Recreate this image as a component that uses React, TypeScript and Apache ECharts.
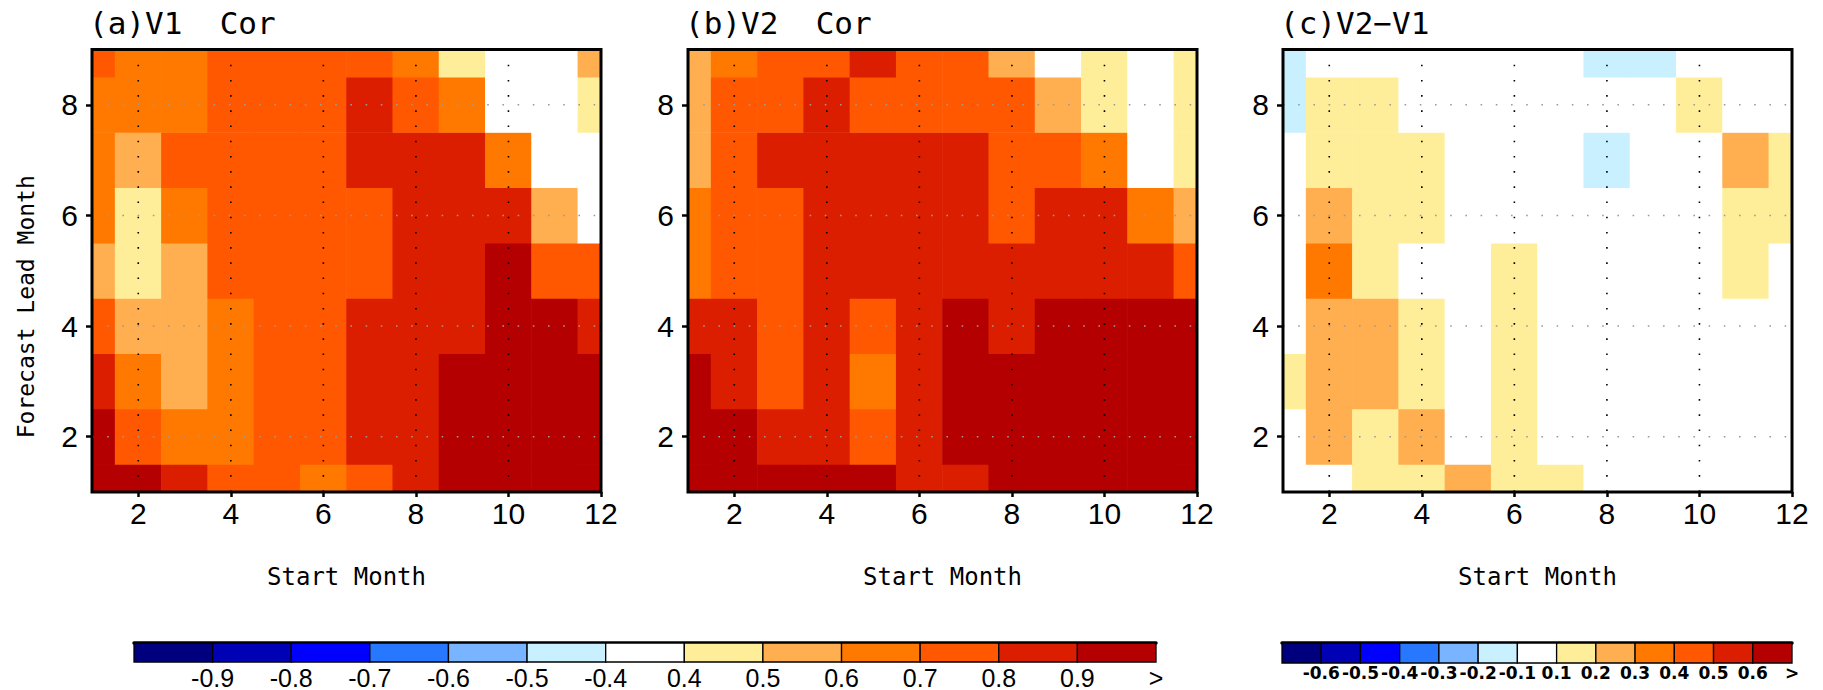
import React, { useEffect, useRef } from 'react';
import * as echarts from 'echarts';

// ---------- data ----------
const startMonths = [1, 2, 3, 4, 5, 6, 7, 8, 9, 10, 11, 12];
const leadMonths = [1, 2, 3, 4, 5, 6, 7, 8, 9];
const xTickValues = [2, 4, 6, 8, 10, 12];
const yTickValues = [2, 4, 6, 8];
const gridXValues = [2, 4, 6, 8, 10];
const gridYValues = [2, 4, 6, 8];

// rows: lead month 1 (bottom) ... 9 (top); columns: start month 1 ... 12
const v1Cor = [
  [0.93, 0.93, 0.85, 0.75, 0.75, 0.65, 0.75, 0.85, 0.93, 0.93, 0.93, 0.93],
  [0.93, 0.75, 0.65, 0.65, 0.75, 0.75, 0.85, 0.85, 0.93, 0.93, 0.93, 0.93],
  [0.85, 0.65, 0.55, 0.65, 0.75, 0.75, 0.85, 0.85, 0.93, 0.93, 0.93, 0.93],
  [0.75, 0.55, 0.55, 0.65, 0.75, 0.75, 0.85, 0.85, 0.85, 0.93, 0.93, 0.85],
  [0.55, 0.45, 0.55, 0.75, 0.75, 0.75, 0.75, 0.85, 0.85, 0.93, 0.75, 0.75],
  [0.65, 0.45, 0.65, 0.75, 0.75, 0.75, 0.75, 0.85, 0.85, 0.85, 0.55, 0.35],
  [0.65, 0.55, 0.75, 0.75, 0.75, 0.75, 0.85, 0.85, 0.85, 0.65, 0.35, 0.35],
  [0.65, 0.65, 0.65, 0.75, 0.75, 0.75, 0.85, 0.75, 0.65, 0.35, 0.35, 0.45],
  [0.75, 0.65, 0.65, 0.75, 0.75, 0.75, 0.75, 0.65, 0.45, 0.35, 0.35, 0.55],
];
const v2Cor = [
  [0.93, 0.93, 0.93, 0.93, 0.93, 0.85, 0.85, 0.93, 0.93, 0.93, 0.93, 0.93],
  [0.93, 0.93, 0.85, 0.85, 0.75, 0.85, 0.93, 0.93, 0.93, 0.93, 0.93, 0.93],
  [0.93, 0.85, 0.75, 0.85, 0.65, 0.85, 0.93, 0.93, 0.93, 0.93, 0.93, 0.93],
  [0.85, 0.85, 0.75, 0.85, 0.75, 0.85, 0.93, 0.85, 0.93, 0.93, 0.93, 0.93],
  [0.65, 0.75, 0.75, 0.85, 0.85, 0.85, 0.85, 0.85, 0.85, 0.85, 0.85, 0.75],
  [0.65, 0.75, 0.75, 0.85, 0.85, 0.85, 0.85, 0.75, 0.85, 0.85, 0.65, 0.55],
  [0.55, 0.75, 0.85, 0.85, 0.85, 0.85, 0.85, 0.75, 0.75, 0.65, 0.35, 0.45],
  [0.55, 0.75, 0.75, 0.85, 0.75, 0.75, 0.75, 0.75, 0.55, 0.45, 0.35, 0.45],
  [0.55, 0.65, 0.75, 0.75, 0.85, 0.75, 0.75, 0.55, 0.35, 0.45, 0.35, 0.45],
];
const v2MinusV1 = [
  [0.05, 0.05, 0.15, 0.15, 0.25, 0.15, 0.15, 0.05, 0.05, 0.05, 0.05, 0.05],
  [0.05, 0.25, 0.15, 0.25, 0.05, 0.15, 0.05, 0.05, 0.05, 0.05, 0.05, 0.05],
  [0.15, 0.25, 0.25, 0.15, 0.05, 0.15, 0.05, 0.05, 0.05, 0.05, 0.05, 0.05],
  [0.05, 0.25, 0.25, 0.15, 0.05, 0.15, 0.05, 0.05, 0.05, 0.05, 0.05, 0.05],
  [0.05, 0.35, 0.15, 0.05, 0.05, 0.15, 0.05, 0.05, 0.05, 0.05, 0.15, 0.05],
  [0.05, 0.25, 0.15, 0.15, 0.05, 0.05, 0.05, 0.05, 0.05, 0.05, 0.15, 0.15],
  [0.05, 0.15, 0.15, 0.15, 0.05, 0.05, 0.05, -0.15, 0.05, 0.05, 0.25, 0.15],
  [-0.15, 0.15, 0.15, 0.05, 0.05, 0.05, 0.05, 0.05, 0.05, 0.15, 0.05, 0.05],
  [-0.15, 0.05, 0.05, 0.05, 0.05, 0.05, 0.05, -0.15, -0.15, 0.05, 0.05, 0.05],
];

const corThresholds = [-0.9, -0.8, -0.7, -0.6, -0.5, -0.4, 0.4, 0.5, 0.6, 0.7, 0.8, 0.9];
const diffThresholds = [-0.6, -0.5, -0.4, -0.3, -0.2, -0.1, 0.1, 0.2, 0.3, 0.4, 0.5, 0.6];
const paletteColors = [
  '#00007F', '#0000B4', '#0000FF', '#2878FF', '#78B4FF', '#C8F0FF', '#FFFFFF',
  '#FFEE99', '#FFAF4F', '#FF7800', '#FF5800', '#DC1E00', '#B40000',
];
const corLabels = ['-0.9', '-0.8', '-0.7', '-0.6', '-0.5', '-0.4', '0.4', '0.5', '0.6', '0.7', '0.8', '0.9', '>'];
const diffLabels = ['-0.6', '-0.5', '-0.4', '-0.3', '-0.2', '-0.1', '0.1', '0.2', '0.3', '0.4', '0.5', '0.6', '>'];
const panelTitles = ['(a)V1  Cor', '(b)V2  Cor', '(c)V2\u2212V1'];
const xAxisTitle = 'Start Month';
const yAxisTitle = 'Forecast Lead Month';

// ---------- helpers ----------
const NAME_FONT = "'DejaVu Sans Mono', monospace";
const TICK_FONT = "'Liberation Sans Narrow', 'Liberation Sans', sans-serif";
const CB_FONT = "'Liberation Sans', sans-serif";
const CB2_FONT = "'DejaVu Sans', sans-serif";

function toCells(rows: number[][]) {
  const out: number[][] = [];
  rows.forEach((row, yi) => {
    row.forEach((v, xi) => {
      out.push([startMonths[xi], leadMonths[yi], v]);
    });
  });
  return out;
}

function makePieces(th: number[]) {
  const pieces: any[] = [{ lt: th[0], color: paletteColors[0] }];
  for (let i = 0; i < th.length - 1; i++) {
    pieces.push({ gte: th[i], lt: th[i + 1], color: paletteColors[i + 1] });
  }
  pieces.push({ gte: th[th.length - 1], color: paletteColors[paletteColors.length - 1] });
  return pieces;
}

const cellRender = (params: any, api: any) => {
  const x = api.value(0);
  const y = api.value(1);
  const p0 = api.coord([x - 0.5, y + 0.5]);
  const p1 = api.coord([x + 0.5, y - 0.5]);
  const cs = params.coordSys;
  const shape = echarts.graphic.clipRectByRect(
    { x: p0[0] - 0.3, y: p0[1] - 0.3, width: p1[0] - p0[0] + 0.6, height: p1[1] - p0[1] + 0.6 },
    { x: cs.x, y: cs.y, width: cs.width, height: cs.height }
  );
  if (!shape) return null;
  return { type: 'rect', shape, style: { fill: api.visual('color') } };
};

const vLineRender = (params: any, api: any) => {
  const v = api.value(0);
  const p0 = api.coord([v, 9]);
  const p1 = api.coord([v, 1]);
  return {
    type: 'line',
    shape: { x1: p0[0], y1: p0[1], x2: p1[0], y2: p1[1] },
    style: { stroke: '#000', lineWidth: 1.6, lineDash: [1.6, 13.6] },
  };
};

const hLineRender = (params: any, api: any) => {
  const v = api.value(1);
  const p0 = api.coord([1, v]);
  const p1 = api.coord([12, v]);
  return {
    type: 'line',
    shape: { x1: p0[0], y1: p0[1], x2: p1[0], y2: p1[1] },
    style: { stroke: '#9a9a9a', lineWidth: 1.6, lineDash: [1.6, 13.6] },
  };
};

const barRender = (params: any, api: any) => {
  const i = api.value(0);
  const p0 = api.coord([i, 1]);
  const p1 = api.coord([i + 1, 0]);
  return {
    type: 'rect',
    shape: { x: p0[0], y: p0[1], width: p1[0] - p0[0], height: p1[1] - p0[1] },
    style: { fill: api.visual('color'), stroke: '#000', lineWidth: 1.3 },
  };
};

const panelLefts = [92, 688, 1283];
const PANEL_TOP = 49.5;
const PANEL_W = 509;
const PANEL_H = 442.5;

export default function App() {
  const ref = useRef<HTMLDivElement>(null);

  useEffect(() => {
    if (!ref.current) return;
    const chart = echarts.init(ref.current, undefined, { renderer: 'svg' });

    const grids: any[] = panelLefts.map((left) => ({
      left,
      top: PANEL_TOP,
      width: PANEL_W,
      height: PANEL_H,
      show: true,
      borderColor: '#000',
      borderWidth: 3,
      backgroundColor: 'transparent',
      z: 10,
    }));
    grids.push({ left: 134, top: 643, width: 1022, height: 20, show: false });
    grids.push({ left: 1282, top: 643, width: 510, height: 20, show: false });

    const xAxes: any[] = panelLefts.map((_, i) => ({
      type: 'value',
      gridIndex: i,
      min: 1,
      max: 12,
      axisLine: { show: false },
      splitLine: { show: false },
      axisTick: {
        show: true,
        length: 5,
        customValues: xTickValues,
        lineStyle: { color: '#000', width: 2.5 },
      },
      axisLabel: {
        customValues: xTickValues,
        color: '#000',
        fontSize: 30,
        fontFamily: TICK_FONT,
        margin: 6,
      },
      name: xAxisTitle,
      nameLocation: 'middle',
      nameGap: 85,
      nameTextStyle: { color: '#000', fontSize: 24, fontFamily: NAME_FONT, verticalAlign: 'middle' },
    }));
    // colorbar axes
    const cbAxis = (
      gridIndex: number,
      labels: string[],
      size: number,
      weight: string,
      margin: number,
      family: string
    ) => [
      {
        type: 'value',
        gridIndex,
        min: 0,
        max: 13,
        axisLine: { show: false },
        axisTick: { show: false },
        splitLine: { show: false },
        axisLabel: {
          customValues: labels.map((_, i) => i + 1),
          formatter: (v: number) => labels[Math.round(v) - 1] ?? '',
          color: '#000',
          fontSize: size,
          fontWeight: weight,
          fontFamily: family,
          margin,
          showMinLabel: true,
          showMaxLabel: true,
        },
      },
      {
        type: 'value',
        gridIndex,
        position: 'top',
        min: 0,
        max: 13,
        axisLine: { show: true, lineStyle: { color: '#000', width: 3.5 } },
        axisTick: { show: false },
        axisLabel: { show: false },
        splitLine: { show: false },
      },
    ];
    xAxes.push(...cbAxis(3, corLabels, 25, 'normal', 3, CB_FONT));
    xAxes.push(...cbAxis(4, diffLabels, 17, 'bold', 1, CB2_FONT));

    const yAxes: any[] = panelLefts.map((_, i) => ({
      type: 'value',
      gridIndex: i,
      min: 1,
      max: 9,
      axisLine: { show: false },
      splitLine: { show: false },
      axisTick: {
        show: true,
        length: 6,
        customValues: yTickValues,
        lineStyle: { color: '#000', width: 2.5 },
      },
      axisLabel: {
        customValues: yTickValues,
        color: '#000',
        fontSize: 30,
        fontFamily: TICK_FONT,
        margin: 14,
      },
      ...(i === 0
        ? {
            name: yAxisTitle,
            nameLocation: 'middle',
            nameGap: 66,
            nameTextStyle: {
              color: '#000',
              fontSize: 23,
              fontFamily: NAME_FONT,
              verticalAlign: 'middle',
              padding: [0, 72, 0, 0],
            },
          }
        : {}),
    }));
    yAxes.push({ type: 'value', gridIndex: 3, min: 0, max: 1, show: false });
    yAxes.push({ type: 'value', gridIndex: 4, min: 0, max: 1, show: false });

    const panels = [v1Cor, v2Cor, v2MinusV1];
    const series: any[] = [];
    panels.forEach((rows, i) => {
      series.push({
        type: 'custom',
        name: 'cells' + i,
        xAxisIndex: i,
        yAxisIndex: i,
        renderItem: cellRender,
        data: toCells(rows),
        encode: { x: 0, y: 1 },
        z: 2,
      });
    });
    panels.forEach((_, i) => {
      series.push({
        type: 'custom',
        xAxisIndex: i,
        yAxisIndex: i,
        renderItem: vLineRender,
        data: gridXValues.map((v) => [v, 5]),
        z: 5,
        silent: true,
      });
      series.push({
        type: 'custom',
        xAxisIndex: i,
        yAxisIndex: i,
        renderItem: hLineRender,
        data: gridYValues.map((v) => [6, v]),
        z: 5,
        silent: true,
      });
    });
    series.push({
      type: 'custom',
      xAxisIndex: 3,
      yAxisIndex: 3,
      renderItem: barRender,
      data: paletteColors.map((c, i) => ({ value: [i, 0.5], itemStyle: { color: c } })),
      silent: true,
    });
    series.push({
      type: 'custom',
      xAxisIndex: 5,
      yAxisIndex: 4,
      renderItem: barRender,
      data: paletteColors.map((c, i) => ({ value: [i, 0.5], itemStyle: { color: c } })),
      silent: true,
    });

    const option: any = {
      animation: false,
      backgroundColor: '#fff',
      title: panelTitles.map((t, i) => ({
        text: t,
        left: panelLefts[i] - 3,
        top: 7,
        padding: 0,
        textStyle: { color: '#000', fontSize: 31, fontWeight: 'normal', fontFamily: NAME_FONT },
      })),
      grid: grids,
      xAxis: xAxes,
      yAxis: yAxes,
      visualMap: [
        {
          type: 'piecewise',
          show: false,
          dimension: 2,
          seriesIndex: [0, 1],
          pieces: makePieces(corThresholds),
        },
        {
          type: 'piecewise',
          show: false,
          dimension: 2,
          seriesIndex: [2],
          pieces: makePieces(diffThresholds),
        },
      ],
      series,
    };
    chart.setOption(option);
    return () => chart.dispose();
  }, []);

  return (
    <div
      ref={ref}
      style={{ position: 'absolute', left: 0, top: 0, width: 1823, height: 690, background: '#fff' }}
    />
  );
}
